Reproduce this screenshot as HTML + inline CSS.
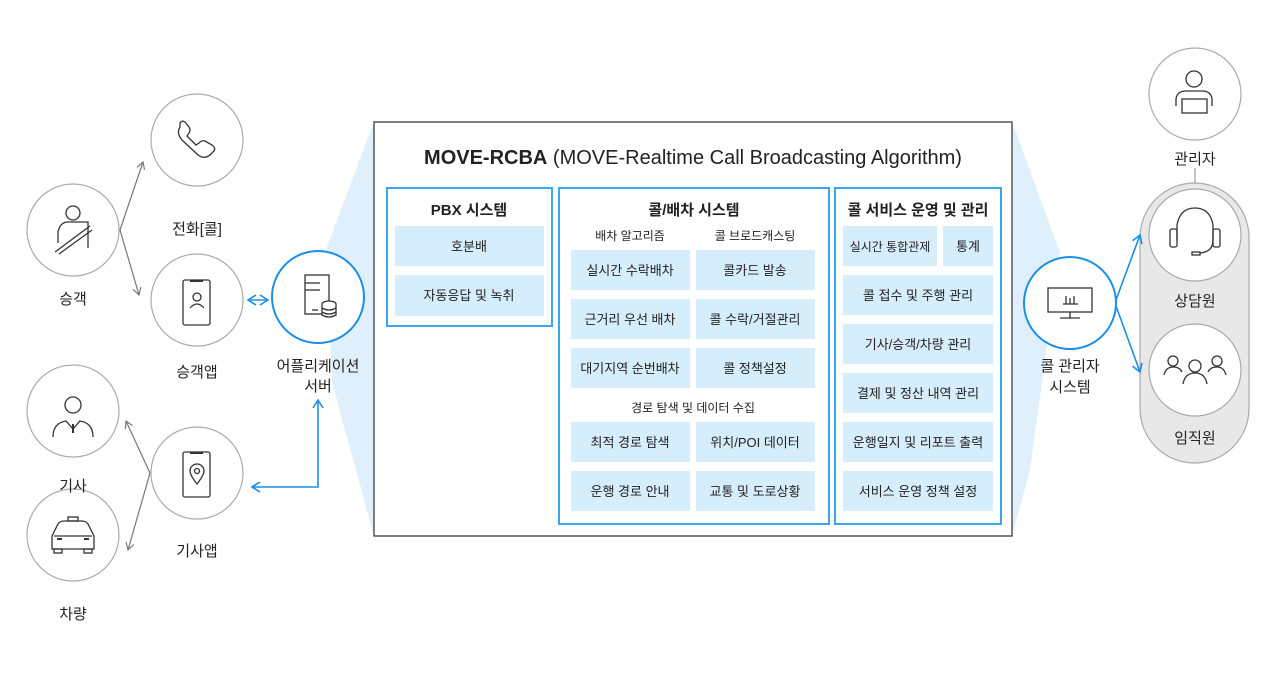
<!DOCTYPE html>
<html><head><meta charset="utf-8"><style>
html,body{margin:0;padding:0;background:#fff}
svg{display:block}
text{font-family:"Liberation Sans","Noto Sans CJK KR",sans-serif;fill:#222;text-anchor:middle}
.b{fill:#d6edfb}
.t{font-size:13px}
.h{font-size:15px;font-weight:bold}
.l{font-size:15px}
.ic{fill:none;stroke:#333;stroke-width:1.3}
</style></head><body>
<svg width="1280" height="682" viewBox="0 0 1280 682">
<defs>
<marker id="ag" markerWidth="10" markerHeight="10" refX="8" refY="5" orient="auto" markerUnits="userSpaceOnUse"><path d="M1,1 L8,5 L1,9" fill="none" stroke="#777" stroke-width="1.2"/></marker>
<marker id="ab" markerWidth="12" markerHeight="12" refX="9" refY="6" orient="auto-start-reverse" markerUnits="userSpaceOnUse"><path d="M1,1 L9,6 L1,11" fill="none" stroke="#1a8fe8" stroke-width="1.6"/></marker>
</defs>
<polygon points="374,122 326,250 332,382 374,536" fill="#dff0fc"/>
<polygon points="1012,122 1060,252 1030,470 1012,536" fill="#dff0fc"/>
<rect x="374" y="122" width="638" height="414" fill="#fff" stroke="#555" stroke-width="1.5"/>
<text x="693" y="164" style="font-size:20px"><tspan font-weight="bold">MOVE-RCBA</tspan> (MOVE-Realtime Call Broadcasting Algorithm)</text>
<rect x="387" y="188" width="165" height="138" fill="#fff" stroke="#3aa8ee" stroke-width="2"/>
<text x="469" y="215" class="h">PBX 시스템</text>
<rect class="b" x="395" y="226" width="149" height="40"/><text class="t" x="469" y="251">호분배</text>
<rect class="b" x="395" y="275" width="149" height="41"/><text class="t" x="469" y="300">자동응답 및 녹취</text>
<rect x="559" y="188" width="270" height="336" fill="#fff" stroke="#3aa8ee" stroke-width="2"/>
<text x="694" y="215" class="h">콜/배차 시스템</text>
<text x="630" y="240" style="font-size:12px">배차 알고리즘</text>
<text x="755" y="240" style="font-size:12px">콜 브로드캐스팅</text>
<rect class="b" x="571" y="250" width="119" height="40"/><text class="t" x="630" y="275">실시간 수락배차</text>
<rect class="b" x="696" y="250" width="119" height="40"/><text class="t" x="755" y="275">콜카드 발송</text>
<rect class="b" x="571" y="299" width="119" height="40"/><text class="t" x="630" y="324">근거리 우선 배차</text>
<rect class="b" x="696" y="299" width="119" height="40"/><text class="t" x="755" y="324">콜 수락/거절관리</text>
<rect class="b" x="571" y="348" width="119" height="40"/><text class="t" x="630" y="373">대기지역 순번배차</text>
<rect class="b" x="696" y="348" width="119" height="40"/><text class="t" x="755" y="373">콜 정책설정</text>
<text x="693" y="412" style="font-size:12px">경로 탐색 및 데이터 수집</text>
<rect class="b" x="571" y="422" width="119" height="40"/><text class="t" x="630" y="447">최적 경로 탐색</text>
<rect class="b" x="696" y="422" width="119" height="40"/><text class="t" x="755" y="447">위치/POI 데이터</text>
<rect class="b" x="571" y="471" width="119" height="40"/><text class="t" x="630" y="496">운행 경로 안내</text>
<rect class="b" x="696" y="471" width="119" height="40"/><text class="t" x="755" y="496">교통 및 도로상황</text>
<rect x="835" y="188" width="166" height="336" fill="#fff" stroke="#3aa8ee" stroke-width="2"/>
<text x="918" y="215" class="h">콜 서비스 운영 및 관리</text>
<rect class="b" x="843" y="226" width="94" height="40"/><text x="890" y="251" style="font-size:12px">실시간 통합관제</text>
<rect class="b" x="943" y="226" width="50" height="40"/><text class="t" x="968" y="251">통계</text>
<rect class="b" x="843" y="275" width="150" height="40"/><text class="t" x="918" y="300">콜 접수 및 주행 관리</text>
<rect class="b" x="843" y="324" width="150" height="40"/><text class="t" x="918" y="349">기사/승객/차량 관리</text>
<rect class="b" x="843" y="373" width="150" height="40"/><text class="t" x="918" y="398">결제 및 정산 내역 관리</text>
<rect class="b" x="843" y="422" width="150" height="40"/><text class="t" x="918" y="447">운행일지 및 리포트 출력</text>
<rect class="b" x="843" y="471" width="150" height="40"/><text class="t" x="918" y="496">서비스 운영 정책 설정</text>

<line x1="120" y1="230" x2="143" y2="162" stroke="#777" stroke-width="1.2" marker-end="url(#ag)"/>
<line x1="120" y1="230" x2="139" y2="295" stroke="#777" stroke-width="1.2" marker-end="url(#ag)"/>
<line x1="150" y1="473" x2="126" y2="421" stroke="#777" stroke-width="1.2" marker-end="url(#ag)"/>
<line x1="150" y1="473" x2="128" y2="550" stroke="#777" stroke-width="1.2" marker-end="url(#ag)"/>
<line x1="248" y1="300" x2="268" y2="300" stroke="#1a8fe8" stroke-width="1.6" marker-start="url(#ab)" marker-end="url(#ab)"/>
<polyline points="252,487 318,487 318,400" fill="none" stroke="#1a8fe8" stroke-width="1.6" marker-start="url(#ab)" marker-end="url(#ab)"/>

<g fill="#fff" stroke="#aaa" stroke-width="1.2">
<circle cx="73" cy="230" r="46"/><circle cx="197" cy="140" r="46"/><circle cx="197" cy="300" r="46"/>
<circle cx="73" cy="411" r="46"/><circle cx="73" cy="535" r="46"/><circle cx="197" cy="473" r="46"/>
</g>
<circle cx="318" cy="297" r="46" fill="#fff" stroke="#1a8fe8" stroke-width="2"/>
<g class="ic">
<circle cx="73" cy="213" r="7"/><path d="M58,243 V232 Q60,222 68,222 H88 V248"/><line x1="55" y1="252" x2="90" y2="226"/><line x1="59" y1="254" x2="92" y2="230"/>
<path d="M180,127 Q176,133 182,140 L198,155 Q205,160 211,154 L214,151 Q216,148 212,145 L205,141 Q202,140 199,143 L196,145 L187,136 L189,133 Q191,130 189,127 L185,122 Q182,120 180,123 Z"/>
<rect x="183" y="280" width="27" height="45" rx="2"/><circle cx="197" cy="297" r="4"/><path d="M190,308 Q197,300 204,308"/>
<rect x="305" y="275" width="24" height="39"/><line x1="305" y1="283" x2="320" y2="283"/><line x1="305" y1="290" x2="320" y2="290"/><line x1="312" y1="310" x2="318" y2="310"/>
<ellipse cx="329" cy="304" rx="7" ry="3" fill="#fff"/><path d="M322,304 V315 Q329,319 336,315 V304 M322,308 Q329,312 336,308 M322,312 Q329,316 336,312" fill="#fff"/>
<circle cx="73" cy="405" r="8"/><path d="M53,437 Q53,423 66,421 L73,429 L80,421 Q93,423 93,437"/><path d="M73,424 V433" stroke-width="2"/>
<path d="M52,549 V536 L58,524 Q60,521 64,521 H82 Q86,521 88,524 L94,536 V549 Z"/><rect x="68" y="517" width="10" height="4"/><rect x="54" y="549" width="8" height="4"/><rect x="84" y="549" width="8" height="4"/><line x1="57" y1="539" x2="62" y2="539" stroke-width="2"/><line x1="84" y1="539" x2="89" y2="539" stroke-width="2"/><line x1="54" y1="536" x2="92" y2="536"/>
<rect x="183" y="452" width="27" height="45" rx="2"/><path d="M197,484 Q190,475 190,471 A7,7 0 0 1 204,471 Q204,475 197,484 Z"/><circle cx="197" cy="471" r="2.5"/>
</g>
<rect x="190" y="280" width="13" height="2" fill="#333"/><rect x="190" y="452" width="13" height="2" fill="#333"/>
<text class="l" x="73" y="304">승객</text>
<text class="l" x="197" y="234">전화[콜]</text>
<text class="l" x="197" y="377">승객앱</text>
<text class="l" x="318" y="371">어플리케이션</text>
<text class="l" x="318" y="391">서버</text>
<text class="l" x="73" y="491">기사</text>
<text class="l" x="197" y="556">기사앱</text>
<text class="l" x="73" y="619">차량</text>

<line x1="1195" y1="168" x2="1195" y2="184" stroke="#888" stroke-width="1"/>
<rect x="1140" y="183" width="109" height="280" rx="54.5" fill="#e8e8e8" stroke="#aaa" stroke-width="1.2"/>
<line x1="1116" y1="300" x2="1140" y2="235" stroke="#1a8fe8" stroke-width="1.6" marker-end="url(#ab)"/>
<line x1="1116" y1="306" x2="1140" y2="372" stroke="#1a8fe8" stroke-width="1.6" marker-end="url(#ab)"/>
<g fill="#fff" stroke="#aaa" stroke-width="1.2">
<circle cx="1195" cy="94" r="46"/><circle cx="1195" cy="235" r="46"/><circle cx="1195" cy="370" r="46"/>
</g>
<circle cx="1070" cy="303" r="46" fill="#fff" stroke="#1a8fe8" stroke-width="2"/>
<g class="ic">
<circle cx="1194" cy="79" r="8"/><path d="M1176,106 V99 Q1177,91 1186,91 H1202 Q1211,91 1212,99 V106"/><rect x="1182" y="99" width="25" height="14"/>
<path d="M1177,240 V225 Q1180,208 1195,208 Q1210,208 1213,225 V240 Q1213,252 1200,253"/><rect x="1170" y="229" width="7" height="18" rx="2"/><rect x="1213" y="229" width="7" height="18" rx="2"/><rect x="1192" y="252" width="8" height="3"/>
<circle cx="1173" cy="361" r="5"/><circle cx="1217" cy="361" r="5"/><circle cx="1195" cy="366" r="6"/><path d="M1164,375 Q1166,367 1173,367 Q1180,367 1182,372 M1226,375 Q1224,367 1217,367 Q1210,367 1208,372 M1183,384 Q1185,373 1195,373 Q1205,373 1207,384"/>
<rect x="1048" y="288" width="44" height="24"/><line x1="1070" y1="312" x2="1070" y2="318"/><line x1="1060" y1="318" x2="1080" y2="318"/><path d="M1063,304 H1078 M1066,304 V296 M1070,304 V298 M1074,304 V296"/>
</g>
<text class="l" x="1195" y="164">관리자</text>
<text class="l" x="1195" y="306">상담원</text>
<text class="l" x="1195" y="443">임직원</text>
<text class="l" x="1070" y="371">콜 관리자</text>
<text class="l" x="1070" y="392">시스템</text>
</svg>
</body></html>
